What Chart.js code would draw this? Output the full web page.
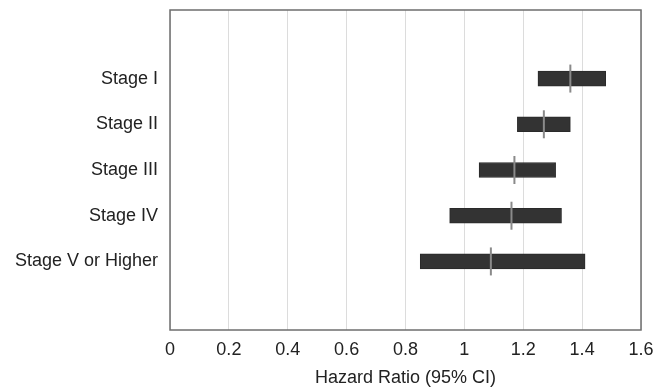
<!DOCTYPE html>
<html>
<head>
<meta charset="utf-8">
<script src="https://cdn.jsdelivr.net/npm/chart.js@4"></script>
<style>
  html, body { margin: 0; padding: 0; background: #fff; }
  #wrap { width: 668px; height: 387px; }
</style>
</head>
<body>
<div id="wrap"><canvas id="forest"></canvas></div>
<script>
// blank rows at both ends give the spacing of the original
const stages = ['', 'Stage I', 'Stage II', 'Stage III', 'Stage IV', 'Stage V or Higher', ''];
const ciLow = [null, 1.25, 1.18, 1.05, 0.95, 0.85, null];
const ciHigh = [null, 1.48, 1.36, 1.31, 1.33, 1.41, null];
const hazardRatio = [null, 1.36, 1.27, 1.17, 1.16, 1.09, null];
const xTicks = [0, 0.2, 0.4, 0.6, 0.8, 1, 1.2, 1.4, 1.6];

const labelFont = { family: 'Liberation Sans, Arial, sans-serif', size: 18 };

const frame = {
  id: 'frame',
  afterDraw(chart) {
    const { ctx, chartArea: a } = chart;
    ctx.save();
    ctx.strokeStyle = '#6e6e6e';
    ctx.lineWidth = 1.5;
    ctx.strokeRect(a.left, a.top, a.right - a.left, a.bottom - a.top);
    ctx.restore();
  }
};

const ctx = document.getElementById('forest').getContext('2d');

new Chart(ctx, {
  type: 'bar',
  data: {
    labels: stages,
    datasets: [
      {
        type: 'line',
        label: 'Hazard ratio',
        data: hazardRatio,
        showLine: false,
        pointStyle: 'line',
        rotation: 90,
        pointRadius: 14,
        pointBorderWidth: 2,
        pointBorderColor: '#8a8a8a',
        pointBackgroundColor: '#8a8a8a',
        order: 0,
      },
      {
        label: '95% CI',
        data: stages.map((s, i) => (ciLow[i] == null ? null : [ciLow[i], ciHigh[i]])),
        backgroundColor: '#333333',
        borderColor: '#2a2a2a',
        borderWidth: 1,
        borderSkipped: false,
        barThickness: 15,
        order: 1,
      },
    ],
  },
  options: {
    indexAxis: 'y',
    responsive: true,
    maintainAspectRatio: false,
    animation: false,
    layout: { autoPadding: false, padding: { top: 10, right: 27, left: 0, bottom: 0 } },
    plugins: {
      legend: { display: false },
      tooltip: { enabled: false },
    },
    scales: {
      x: {
        type: 'linear',
        min: 0,
        max: 1.6,
        afterBuildTicks: scale => {
          scale.ticks = xTicks.map(v => ({ value: v }));
        },
        afterFit: scale => {
          scale.height = 57;
          scale.paddingLeft = 0;
          scale.paddingRight = 0;
        },
        grid: { color: '#dcdcdc', drawTicks: false },
        border: { display: false },
        ticks: {
          padding: 9,
          color: '#222',
          font: labelFont,
          callback: v => String(v),
        },
        title: {
          display: true,
          text: 'Hazard Ratio (95% CI)',
          color: '#222',
          padding: { top: 0, bottom: 0 },
          font: { family: labelFont.family, size: 18, lineHeight: 1 },
        },
      },
      y: {
        afterFit: scale => {
          scale.width = 170;
          scale.paddingTop = 0;
          scale.paddingBottom = 0;
        },
        grid: { display: false, drawTicks: false },
        border: { display: false },
        ticks: {
          padding: 12,
          color: '#222',
          font: labelFont,
        },
      },
    },
  },
  plugins: [frame],
});
</script>
</body>
</html>
